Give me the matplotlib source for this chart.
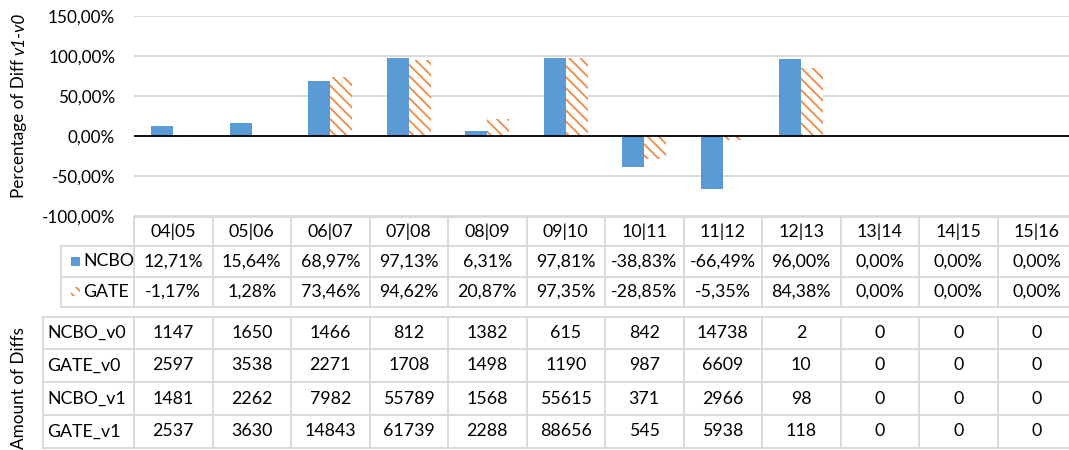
import numpy as np
import matplotlib
matplotlib.use("Agg")
import matplotlib.pyplot as plt
from matplotlib.transforms import blended_transform_factory
from matplotlib.patches import Rectangle

# ---------------- data ----------------
categories = ['04|05', '05|06', '06|07', '07|08', '08|09', '09|10',
              '10|11', '11|12', '12|13', '13|14', '14|15', '15|16']
ncbo_pct = [12.71, 15.64, 68.97, 97.13, 6.31, 97.81, -38.83, -66.49, 96.00, 0.0, 0.0, 0.0]
gate_pct = [-1.17, 1.28, 73.46, 94.62, 20.87, 97.35, -28.85, -5.35, 84.38, 0.0, 0.0, 0.0]

count_labels = ['NCBO_v0', 'GATE_v0', 'NCBO_v1', 'GATE_v1']
ncbo_v0 = [1147, 1650, 1466, 812, 1382, 615, 842, 14738, 2, 0, 0, 0]
gate_v0 = [2597, 3538, 2271, 1708, 1498, 1190, 987, 6609, 10, 0, 0, 0]
ncbo_v1 = [1481, 2262, 7982, 55789, 1568, 55615, 371, 2966, 98, 0, 0, 0]
gate_v1 = [2537, 3630, 14843, 61739, 2288, 88656, 545, 5938, 118, 0, 0, 0]
count_rows = [ncbo_v0, gate_v0, ncbo_v1, gate_v1]

# ---------------- style ----------------
plt.rcParams['font.family'] = ['Lato', 'DejaVu Sans']
plt.rcParams['hatch.linewidth'] = 1.3
BLUE = '#5B9BD5'
ORANGE = '#F08A45'
GRID = '#D9D9D9'
FS = 12.8
FS_TICK = 12.3
FS_T = 12.3
HATCH = '\\\\\\'

W, H = 1069, 450
fig = plt.figure(figsize=(W / 100, H / 100), dpi=100)

# overlay in pixel coordinates
ov = fig.add_axes([0, 0, 1, 1])
ov.set_xlim(0, W)
ov.set_ylim(H, 0)
ov.axis('off')

n = len(categories)
left_px, col_w = 134, 78.5
top_px, bot_px = 16, 216
ax = fig.add_axes([left_px / W, (H - bot_px) / H, n * col_w / W, (bot_px - top_px) / H])
ax.patch.set_alpha(0)

x = np.arange(n)
bw = 0.28
ax.bar(x - bw / 2, np.array(ncbo_pct) / 100, bw, color=BLUE, zorder=3)
ax.bar(x + bw / 2, np.array(gate_pct) / 100, bw, facecolor='white', edgecolor=ORANGE,
       hatch=HATCH, linewidth=0, zorder=3)
ax.set_xlim(-0.5, n - 0.5)
ax.set_ylim(-1.0, 1.5)
ax.set_yticks(np.arange(-1.0, 1.51, 0.5))
ax.yaxis.set_major_formatter(lambda v, p: f'{v * 100:.2f}%'.replace('.', ','))
ax.tick_params(axis='y', length=0, pad=13.5, labelsize=FS_TICK)
ax.set_xticks([])
for s in ax.spines.values():
    s.set_visible(False)
ax.grid(axis='y', color=GRID, lw=1.4, zorder=0)
ax.axhline(0, color='black', lw=1.3, zorder=4)

# ---------------- tables ----------------
tr = blended_transform_factory(ax.transData, ov.transData)
LW = 1.4

def hline(y, x0=-0.5, x1=n - 0.5):
    ov.plot([x0, x1], [y, y], color=GRID, lw=LW, transform=tr, clip_on=False, zorder=1)

def vline(xd, y0, y1):
    ov.plot([xd, xd], [y0, y1], color=GRID, lw=LW, transform=tr, clip_on=False, zorder=1)

def fmt_pct(v):
    return f'{v:.2f}%'.replace('.', ',')

# table 1
t1 = [217, 246, 277, 307]
for y in t1:
    hline(y)
for k in range(n + 1):
    vline(k - 0.5, t1[0], t1[-1])
for y in t1[1:]:
    ov.plot([61, left_px], [y, y], color=GRID, lw=LW, zorder=1)
ov.plot([61, 61], [t1[1], t1[-1]], color=GRID, lw=LW, zorder=1)

for i, c in enumerate(categories):
    ov.text(i, (t1[0] + t1[1]) / 2, c, transform=tr, ha='center', va='center', fontsize=FS)
    ov.text(i, (t1[1] + t1[2]) / 2, fmt_pct(ncbo_pct[i]), transform=tr, ha='center', va='center', fontsize=FS)
    ov.text(i, (t1[2] + t1[3]) / 2, fmt_pct(gate_pct[i]), transform=tr, ha='center', va='center', fontsize=FS)

ov.add_patch(Rectangle((71, 256.5), 9, 9, facecolor=BLUE, edgecolor='none'))
ov.add_patch(Rectangle((71, 287), 9, 9, facecolor='white', edgecolor=ORANGE, hatch=HATCH, linewidth=0))
ov.text(83, (t1[1] + t1[2]) / 2, 'NCBO', ha='left', va='center', fontsize=FS)
ov.text(83, (t1[2] + t1[3]) / 2, 'GATE', ha='left', va='center', fontsize=FS)

# table 2
t2 = [317, 349, 382, 415, 448]
for y in t2:
    hline(y)
    ov.plot([43, left_px], [y, y], color=GRID, lw=LW, zorder=1)
for k in range(n + 1):
    vline(k - 0.5, t2[0], t2[-1])
ov.plot([43, 43], [t2[0], t2[-1]], color=GRID, lw=LW, zorder=1)
for r, (lab, row) in enumerate(zip(count_labels, count_rows)):
    yc = (t2[r] + t2[r + 1]) / 2
    ov.text(47, yc, lab, ha='left', va='center', fontsize=FS)
    for i, v in enumerate(row):
        ov.text(i, yc, str(v), transform=tr, ha='center', va='center', fontsize=FS)

# ---------------- axis titles ----------------
t_a = ov.text(19, 198, 'Percentage of Diff ', rotation=90, ha='center', va='bottom', fontsize=FS_T)
fig.canvas.draw()
bb = t_a.get_window_extent(fig.canvas.get_renderer())
top_y = H - bb.y1
ov.text(19, top_y, 'v1-v0', rotation=90, ha='center', va='bottom', fontsize=FS_T, style='italic')
ov.text(19, 388, 'Amount of Diffs', rotation=90, ha='center', va='center', fontsize=FS_T)

fig.savefig('out.png', dpi=100)
